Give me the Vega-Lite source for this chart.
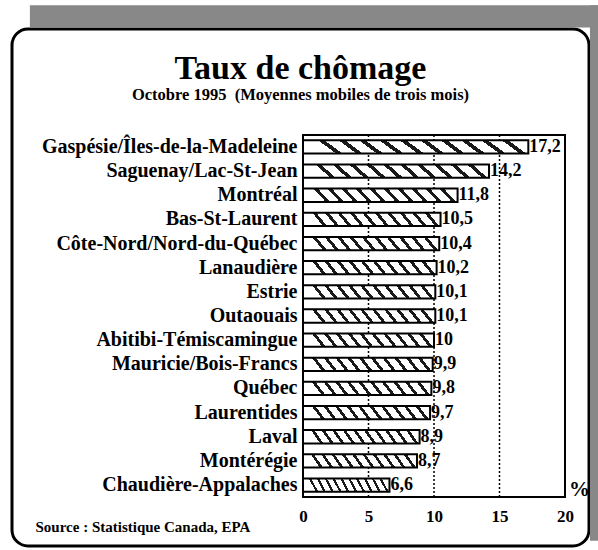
{
  "$schema": "https://vega.github.io/schema/vega-lite/v6.json",
  "autosize": "none",
  "width": 577,
  "height": 517,
  "padding": {"left": 12, "top": 29, "right": 9, "bottom": 4},
  "background": "white",
  "config": {
    "locale": {"number": {"decimal": ",", "thousands": " ", "grouping": [3], "currency": ["", " $"]}},
    "view": {"stroke": "black", "strokeWidth": 3, "cornerRadius": 16, "fill": "white"},
    "font": "Liberation Serif"
  },
  "title": {
    "text": "Taux de chômage",
    "subtitle": "Octobre 1995 \u00a0(Moyennes mobiles de trois mois)",
    "font": "Liberation Serif",
    "fontSize": 34,
    "fontWeight": "bold",
    "color": "black",
    "subtitleFont": "Liberation Serif",
    "subtitleFontSize": 16.5,
    "subtitleFontWeight": "bold",
    "subtitleColor": "black",
    "subtitlePadding": 1,
    "anchor": "middle",
    "frame": "group",
    "offset": -98
  },
  "data": {
    "values": [
      {"region": "Gaspésie/Îles-de-la-Madeleine", "taux": 17.2},
      {"region": "Saguenay/Lac-St-Jean", "taux": 14.2},
      {"region": "Montréal", "taux": 11.8},
      {"region": "Bas-St-Laurent", "taux": 10.5},
      {"region": "Côte-Nord/Nord-du-Québec", "taux": 10.4},
      {"region": "Lanaudière", "taux": 10.2},
      {"region": "Estrie", "taux": 10.1},
      {"region": "Outaouais", "taux": 10.1},
      {"region": "Abitibi-Témiscamingue", "taux": 10},
      {"region": "Mauricie/Bois-Francs", "taux": 9.9},
      {"region": "Québec", "taux": 9.8},
      {"region": "Laurentides", "taux": 9.7},
      {"region": "Laval", "taux": 8.9},
      {"region": "Montérégie", "taux": 8.7},
      {"region": "Chaudière-Appalaches", "taux": 6.6}
    ]
  },
  "resolve": {"scale": {"x": "independent", "y": "independent"}, "axis": {"x": "independent", "y": "independent"}},
  "layer": [
    {
      "mark": {"type": "rect", "fill": "#888888", "stroke": null},
      "data": {"values": [{"x0": 0.031, "x1": 1.016, "y0": -0.046, "y1": -0.003}, {"x0": 1.0017, "x1": 1.016, "y0": -0.046, "y1": 0.99}]},
      "encoding": {
        "x": {"field": "x0", "type": "quantitative", "scale": {"domain": [0, 1], "range": [0, 577]}, "axis": null},
        "x2": {"field": "x1"},
        "y": {"field": "y0", "type": "quantitative", "scale": {"domain": [0, 1], "range": [0, 517]}, "axis": null},
        "y2": {"field": "y1"}
      }
    },
    {
      "mark": {"type": "rule", "color": "black", "strokeWidth": 1.5, "strokeDash": [2, 2]},
      "data": {"values": [{"v": 5}, {"v": 10}, {"v": 15}]},
      "encoding": {
        "x": {"field": "v", "type": "quantitative", "scale": {"domain": [0, 20], "range": [291, 553]}, "axis": null},
        "y": {"datum": 0, "type": "quantitative", "scale": {"domain": [0, 1], "range": [106, 468]}, "axis": null},
        "y2": {"datum": 1}
      }
    },
    {
      "mark": {"type": "bar", "stroke": "black", "strokeWidth": 2,
        "fill": {"gradient": "linear", "x1": 0, "y1": 0.04, "x2": 1, "y2": -0.04, "stops": [
          {"offset": 0, "color": "#ffffff"}, {"offset": 0.07, "color": "#ffffff"},
          {"offset": 0.07, "color": "#1a1a1a"}, {"offset": 0.098, "color": "#1a1a1a"}, {"offset": 0.098, "color": "#ffffff"}, {"offset": 0.16, "color": "#ffffff"},
          {"offset": 0.16, "color": "#1a1a1a"}, {"offset": 0.188, "color": "#1a1a1a"}, {"offset": 0.188, "color": "#ffffff"}, {"offset": 0.25, "color": "#ffffff"},
          {"offset": 0.25, "color": "#1a1a1a"}, {"offset": 0.278, "color": "#1a1a1a"}, {"offset": 0.278, "color": "#ffffff"}, {"offset": 0.34, "color": "#ffffff"},
          {"offset": 0.34, "color": "#1a1a1a"}, {"offset": 0.368, "color": "#1a1a1a"}, {"offset": 0.368, "color": "#ffffff"}, {"offset": 0.43, "color": "#ffffff"},
          {"offset": 0.43, "color": "#1a1a1a"}, {"offset": 0.458, "color": "#1a1a1a"}, {"offset": 0.458, "color": "#ffffff"}, {"offset": 0.52, "color": "#ffffff"},
          {"offset": 0.52, "color": "#1a1a1a"}, {"offset": 0.548, "color": "#1a1a1a"}, {"offset": 0.548, "color": "#ffffff"}, {"offset": 0.61, "color": "#ffffff"},
          {"offset": 0.61, "color": "#1a1a1a"}, {"offset": 0.638, "color": "#1a1a1a"}, {"offset": 0.638, "color": "#ffffff"}, {"offset": 0.7, "color": "#ffffff"},
          {"offset": 0.7, "color": "#1a1a1a"}, {"offset": 0.728, "color": "#1a1a1a"}, {"offset": 0.728, "color": "#ffffff"}, {"offset": 0.79, "color": "#ffffff"},
          {"offset": 0.79, "color": "#1a1a1a"}, {"offset": 0.818, "color": "#1a1a1a"}, {"offset": 0.818, "color": "#ffffff"}, {"offset": 0.88, "color": "#ffffff"},
          {"offset": 0.88, "color": "#1a1a1a"}, {"offset": 0.908, "color": "#1a1a1a"}, {"offset": 0.908, "color": "#ffffff"}, {"offset": 1, "color": "#ffffff"}
        ]}},
      "encoding": {
        "y": {"field": "region", "type": "nominal", "sort": null,
          "scale": {"range": [106, 468], "paddingInner": 0.45, "paddingOuter": 0.22},
          "axis": {"orient": "left", "offset": -291, "domain": false, "ticks": false, "labelPadding": 6, "labelLimit": 400,
            "labelFont": "Liberation Serif", "labelFontWeight": "bold", "labelFontSize": 20, "labelColor": "black",
            "title": "Source : Statistique Canada, EPA", "titleAngle": 0, "titleAlign": "left", "titleBaseline": "alphabetic",
            "titleX": -268, "titleY": 502, "titleFont": "Liberation Serif", "titleFontWeight": "bold", "titleFontSize": 15, "titleColor": "black"}},
        "x": {"field": "taux", "type": "quantitative",
          "scale": {"domain": [0, 20], "range": [291, 553], "nice": false},
          "axis": {"orient": "bottom", "offset": -49, "values": [0, 5, 10, 15, 20], "domain": false, "ticks": false, "grid": false,
            "labelPadding": 11, "labelFont": "Liberation Serif", "labelFontWeight": "bold", "labelFontSize": 17, "labelColor": "black", "labelFlush": false,
            "title": "%", "titleX": 567, "titleY": -8, "titleAlign": "center", "titleBaseline": "middle", "titleAngle": 0,
            "titleFont": "Liberation Serif", "titleFontWeight": "bold", "titleFontSize": 21, "titleColor": "black"}}
      }
    },
    {
      "mark": {"type": "text", "align": "left", "baseline": "middle", "dx": 1, "font": "Liberation Serif", "fontWeight": "bold", "fontSize": 18, "color": "black"},
      "encoding": {
        "y": {"field": "region", "type": "nominal", "sort": null,
          "scale": {"range": [106, 468], "paddingInner": 0.45, "paddingOuter": 0.22}, "axis": null},
        "x": {"field": "taux", "type": "quantitative", "scale": {"domain": [0, 20], "range": [291, 553], "nice": false}, "axis": null},
        "text": {"field": "taux", "type": "quantitative", "format": ".1~f"}
      }
    },
    {
      "mark": {"type": "rect", "fill": null, "stroke": "black", "strokeWidth": 2},
      "encoding": {
        "x": {"datum": 0, "type": "quantitative", "scale": {"domain": [0, 20], "range": [291, 553]}, "axis": null},
        "x2": {"datum": 20},
        "y": {"datum": 0, "type": "quantitative", "scale": {"domain": [0, 1], "range": [106, 468]}, "axis": null},
        "y2": {"datum": 1}
      }
    }
  ]
}
